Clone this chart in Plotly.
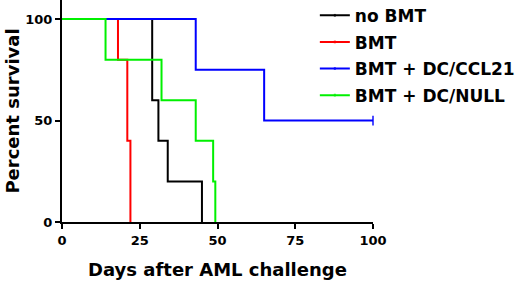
import plotly.graph_objects as go

# Kaplan-Meier step data (days, percent survival)
no_bmt_days = [0, 29, 31, 34, 45]
no_bmt_surv = [100, 60, 40, 20, 0]

bmt_days = [0, 18, 21, 22]
bmt_surv = [100, 80, 40, 0]

ccl21_days = [0, 43, 65, 100]
ccl21_surv = [100, 75, 50, 50]
ccl21_censored = [False, False, False, True]

null_days = [0, 14, 32, 43, 48.6, 49.3]
null_surv = [100, 80, 60, 40, 20, 0]

series = [
    ("no BMT", no_bmt_days, no_bmt_surv, None, "#000000"),
    ("BMT", bmt_days, bmt_surv, None, "#ff0000"),
    ("BMT + DC/CCL21", ccl21_days, ccl21_surv, ccl21_censored, "#0000ff"),
    ("BMT + DC/NULL", null_days, null_surv, None, "#00f000"),
]

x_ticks = [0, 25, 50, 75, 100]
y_ticks = [0, 50, 100]

FONT = "DejaVu Sans"

fig = go.Figure()
for i, (name, xs, ys, cens, col) in enumerate(series):
    sizes = [7 if (cens and cens[j]) else 0 for j in range(len(xs))]
    fig.add_trace(go.Scatter(
        x=xs, y=ys, name=name, mode="lines+markers",
        line=dict(color=col, width=2, shape="hv"),
        marker=dict(symbol="line-ns", size=sizes, color=col,
                    line=dict(color=col, width=2)),
        legendgroup=f"g{i}",
        cliponaxis=False,
    ))

fig.update_layout(
    width=520, height=282,
    margin=dict(l=62, r=147, t=0, b=60, autoexpand=False),
    paper_bgcolor="white", plot_bgcolor="white",
    font=dict(family=FONT, color="#000000"),
    legend=dict(
        x=0.813, xanchor="left", y=1.01, yanchor="top",
        font=dict(family=FONT, size=17, weight="bold"),
        tracegroupgap=1.5, bgcolor="rgba(0,0,0,0)",
    ),
    showlegend=True,
)
fig.update_xaxes(
    range=[0, 100], tickvals=x_ticks, ticktext=[str(v) for v in x_ticks],
    automargin=False,
    showline=True, linecolor="black", linewidth=2, showgrid=False,
    zeroline=False, ticks="outside", ticklen=5, tickwidth=2, tickcolor="black",
    tickfont=dict(family=FONT, size=13, weight="bold"),
    title=dict(text="Days after AML challenge",
               font=dict(family=FONT, size=18, weight="bold"), standoff=17),
)
fig.update_yaxes(
    range=[0, 109.4], tickvals=y_ticks, ticktext=[str(v) for v in y_ticks],
    automargin=False,
    showline=True, linecolor="black", linewidth=2, showgrid=False,
    zeroline=False, ticks="outside", ticklen=5, tickwidth=2, tickcolor="black",
    tickfont=dict(family=FONT, size=13, weight="bold"),
    title=dict(text="Percent survival",
               font=dict(family=FONT, size=18, weight="bold"), standoff=1),
)

fig.write_html("out.html",
               config={"displayModeBar": False},
               post_script="document.body.style.margin='0';document.body.style.padding='0';")
